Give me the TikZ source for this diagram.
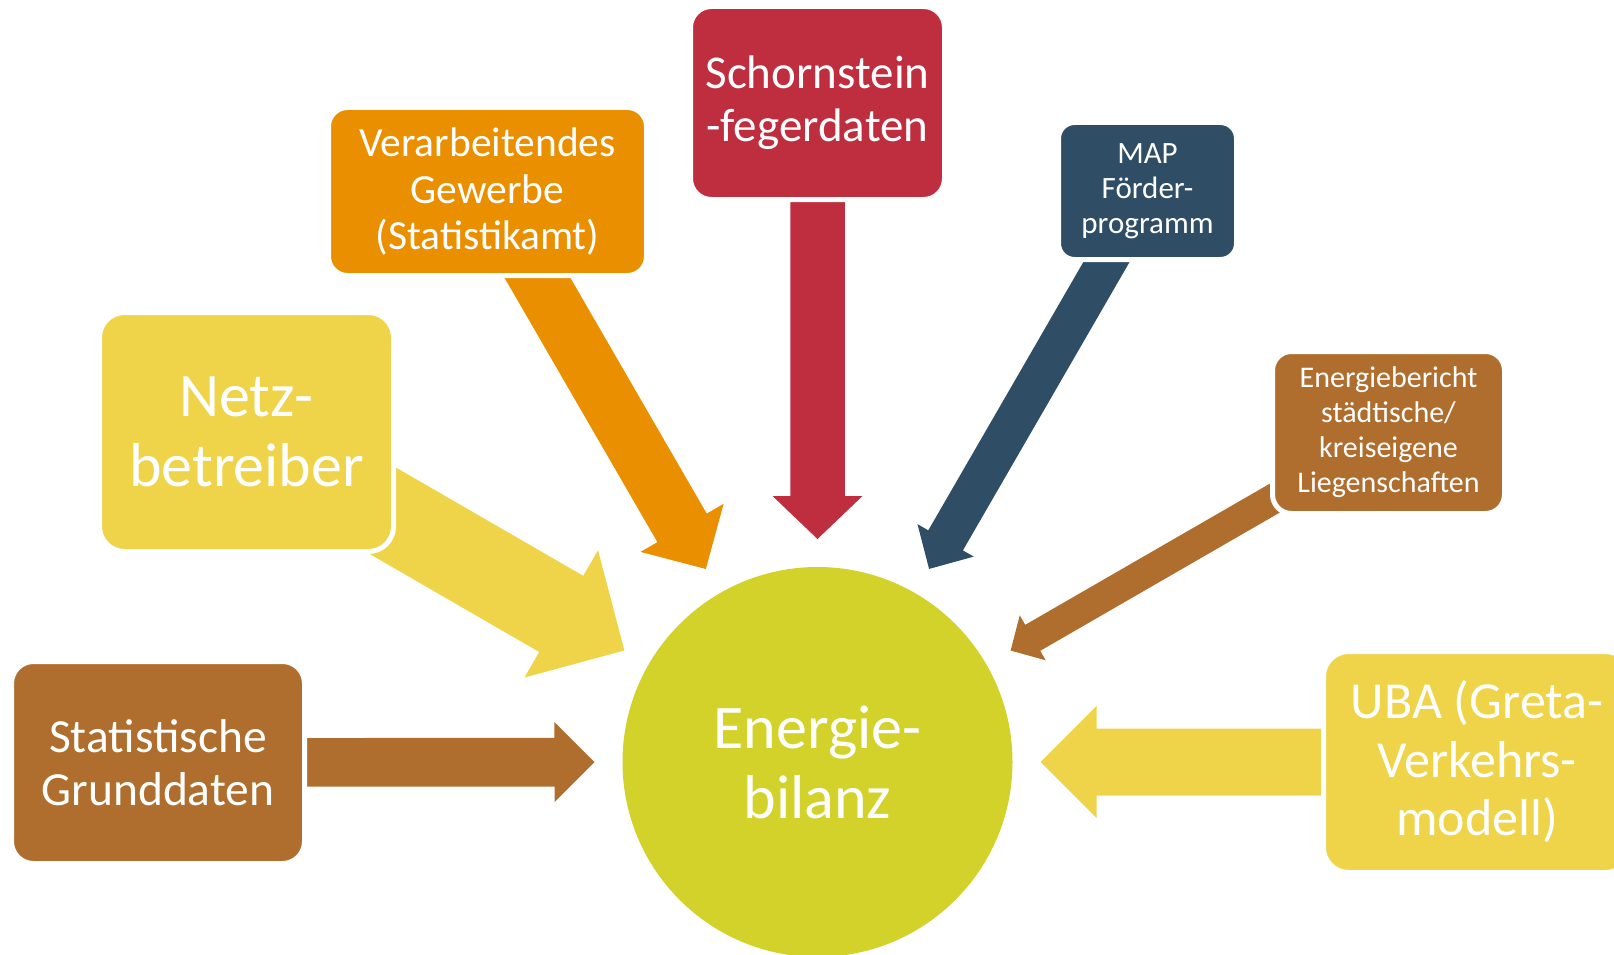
\documentclass[tikz,border=0pt]{standalone}
\usepackage{fontspec}
\setmainfont{Carlito}
\usetikzlibrary{calc,backgrounds}
\definecolor{cOrange}{HTML}{E98F00}
\definecolor{cRed}{HTML}{BE2E3F}
\definecolor{cNavy}{HTML}{2F4E66}
\definecolor{cBrown}{HTML}{AF6E2E}
\definecolor{cYellow}{HTML}{EFD449}
\definecolor{cLime}{HTML}{D3D22A}
\newcommand{\blkarrow}[6]{%
  \coordinate (hb) at ($(#3)!#6!(#2)$);
  \fill[#1] ($(#2)!#4!90:(#3)$) -- ($(hb)!#4!90:(#3)$) -- ($(hb)!#5!90:(#3)$) -- (#3)
    -- ($(hb)!#5!-90:(#3)$) -- ($(hb)!#4!-90:(#3)$) -- ($(#2)!#4!-90:(#3)$) -- cycle;
}
\begin{document}
\begin{tikzpicture}[x=1pt,y=-1pt,
  srcbox/.style={draw=white, line width=5pt, text=white, align=center, inner sep=0pt}]
\useasboundingbox (0,0) rectangle (1614,955);
\clip (0,0) rectangle (1614,955);
% centre
\node[circle, fill=cLime, minimum size=390pt, inner sep=0pt, text=white, align=center,
  font=\fontsize{62}{70}\selectfont]
  (bil) at (817.5,762) {Energie-\\bilanz};
% source boxes
\node[srcbox, fill=cBrown, minimum width=293pt, minimum height=202pt, rounded corners=22pt,
  font=\fontsize{47.5}{53}\selectfont]
  (stat) at (158,762.5) {Statistische\\Grunddaten};
\node[srcbox, fill=cYellow, minimum width=294pt, minimum height=239pt, rounded corners=25pt,
  font=\fontsize{62}{70}\selectfont]
  (netz) at (246.5,432) {Netz-\\betreiber};
\node[srcbox, fill=cOrange, minimum width=318pt, minimum height=168pt, rounded corners=19pt,
  font=\fontsize{41.5}{46.5}\selectfont]
  (verarb) at (487.5,191.5) {Verarbeitendes\\Gewerbe\\(Statistikamt)};
\node[srcbox, fill=cRed, minimum width=254pt, minimum height=193pt, rounded corners=21pt,
  font=\fontsize{47}{52.6}\selectfont]
  (schorn) at (817.5,103) {Schornstein\\-fegerdaten};
\node[srcbox, fill=cNavy, minimum width=178pt, minimum height=137pt, rounded corners=16pt,
  font=\fontsize{31}{35}\selectfont]
  (map) at (1147.5,191) {MAP\\Förder-\\programm};
\node[srcbox, fill=cBrown, minimum width=232pt, minimum height=162pt, rounded corners=19pt,
  font=\fontsize{30}{35}\selectfont]
  (ener) at (1388.5,432.5) {Energiebericht\\städtische/\\kreiseigene\\Liegenschaften};
\node[srcbox, fill=cYellow, minimum width=307pt, minimum height=221pt, rounded corners=25pt,
  font=\fontsize{52}{58.5}\selectfont]
  (uba) at (1477,762) {UBA (Greta-\\Verkehrs-\\modell)};
% arrow tips
\coordinate (tstat) at ($(bil.center)!223pt!(stat.center)$);
\coordinate (tnetz) at ($(bil.center)!223pt!(netz.center)$);
\coordinate (tverarb) at ($(bil.center)!223pt!(verarb.center)$);
\coordinate (tschorn) at ($(bil.center)!223pt!(schorn.center)$);
\coordinate (tmap) at ($(bil.center)!223pt!(map.center)$);
\coordinate (tener) at ($(bil.center)!223pt!(ener.center)$);
\coordinate (tuba) at ($(bil.center)!223pt!(uba.center)$);
\begin{pgfonlayer}{background}
\blkarrow{cBrown}{stat.center}{tstat}{24.35pt}{40pt}{40pt}
\blkarrow{cYellow}{netz.center}{tnetz}{44pt}{73.5pt}{73pt}
\blkarrow{cOrange}{verarb.center}{tverarb}{28.5pt}{48pt}{47.5pt}
\blkarrow{cRed}{schorn.center}{tschorn}{27.25pt}{45pt}{43pt}
\blkarrow{cNavy}{map.center}{tmap}{20pt}{32.5pt}{33pt}
\blkarrow{cBrown}{ener.center}{tener}{15pt}{26pt}{25.5pt}
\blkarrow{cYellow}{uba.center}{tuba}{33.5pt}{56pt}{56pt}
\end{pgfonlayer}
\end{tikzpicture}
\end{document}
